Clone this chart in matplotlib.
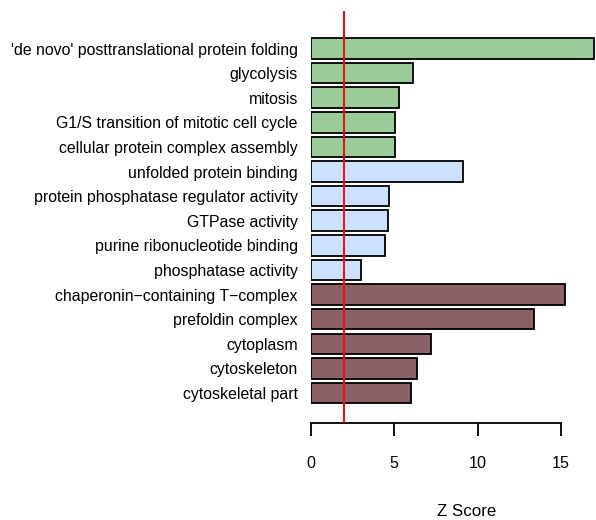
import matplotlib
matplotlib.use("Agg")
import matplotlib.pyplot as plt

# GO term enrichment, listed top to bottom
terms = [
    "'de novo' posttranslational protein folding",
    "glycolysis",
    "mitosis",
    "G1/S transition of mitotic cell cycle",
    "cellular protein complex assembly",
    "unfolded protein binding",
    "protein phosphatase regulator activity",
    "GTPase activity",
    "purine ribonucleotide binding",
    "phosphatase activity",
    "chaperonin\u2212containing T\u2212complex",
    "prefoldin complex",
    "cytoplasm",
    "cytoskeleton",
    "cytoskeletal part",
]
zscores = [17.0, 6.15, 5.27, 5.07, 5.07,
           9.11, 4.70, 4.65, 4.46, 3.02,
           15.26, 13.37, 7.23, 6.39, 6.0]
# GO namespace of each term
namespace = ["BP"] * 5 + ["MF"] * 5 + ["CC"] * 5
namespace_colors = {"BP": "#99CC99", "MF": "#CCE0FF", "CC": "#8B6066"}
threshold = 1.96
xticks = [0, 5, 10, 15]

W, H = 596, 520
fig = plt.figure(figsize=(W / 100, H / 100), dpi=100)
ax = fig.add_axes([311 / W, (H - 422.5) / H, 285 / W, (422.5 - 11) / H])

font = "Liberation Sans"
pos = [i * 1.2 for i in range(len(terms))]
ax.barh(pos, zscores, height=1.0,
        color=[namespace_colors[n] for n in namespace],
        edgecolor="black", linewidth=1.3, zorder=2)
ax.axvline(threshold, color="#EE1111", linewidth=1.5, zorder=3)

ax.set_ylim(pos[-1] + 1.44, -1.83)
ax.set_xlim(0, 285 / 16.65)

for side in ("top", "right", "left"):
    ax.spines[side].set_visible(False)
ax.spines["bottom"].set_bounds(0, 15)
ax.spines["bottom"].set_linewidth(1.3)
ax.set_xticks(xticks)
ax.set_xticklabels([str(t) for t in xticks], fontfamily=font, fontsize=11.6)
ax.tick_params(axis="x", direction="out", length=9, width=1.3, pad=15)

ax.set_yticks(pos)
ax.set_yticklabels(terms, fontfamily=font, fontsize=11.4)
ax.tick_params(axis="y", length=0, pad=9.5)

fig.text(466.5 / W, 1 - 512 / H, "Z Score", ha="center", va="center",
         fontfamily=font, fontsize=12.2)

fig.savefig("out.png", dpi=100)
